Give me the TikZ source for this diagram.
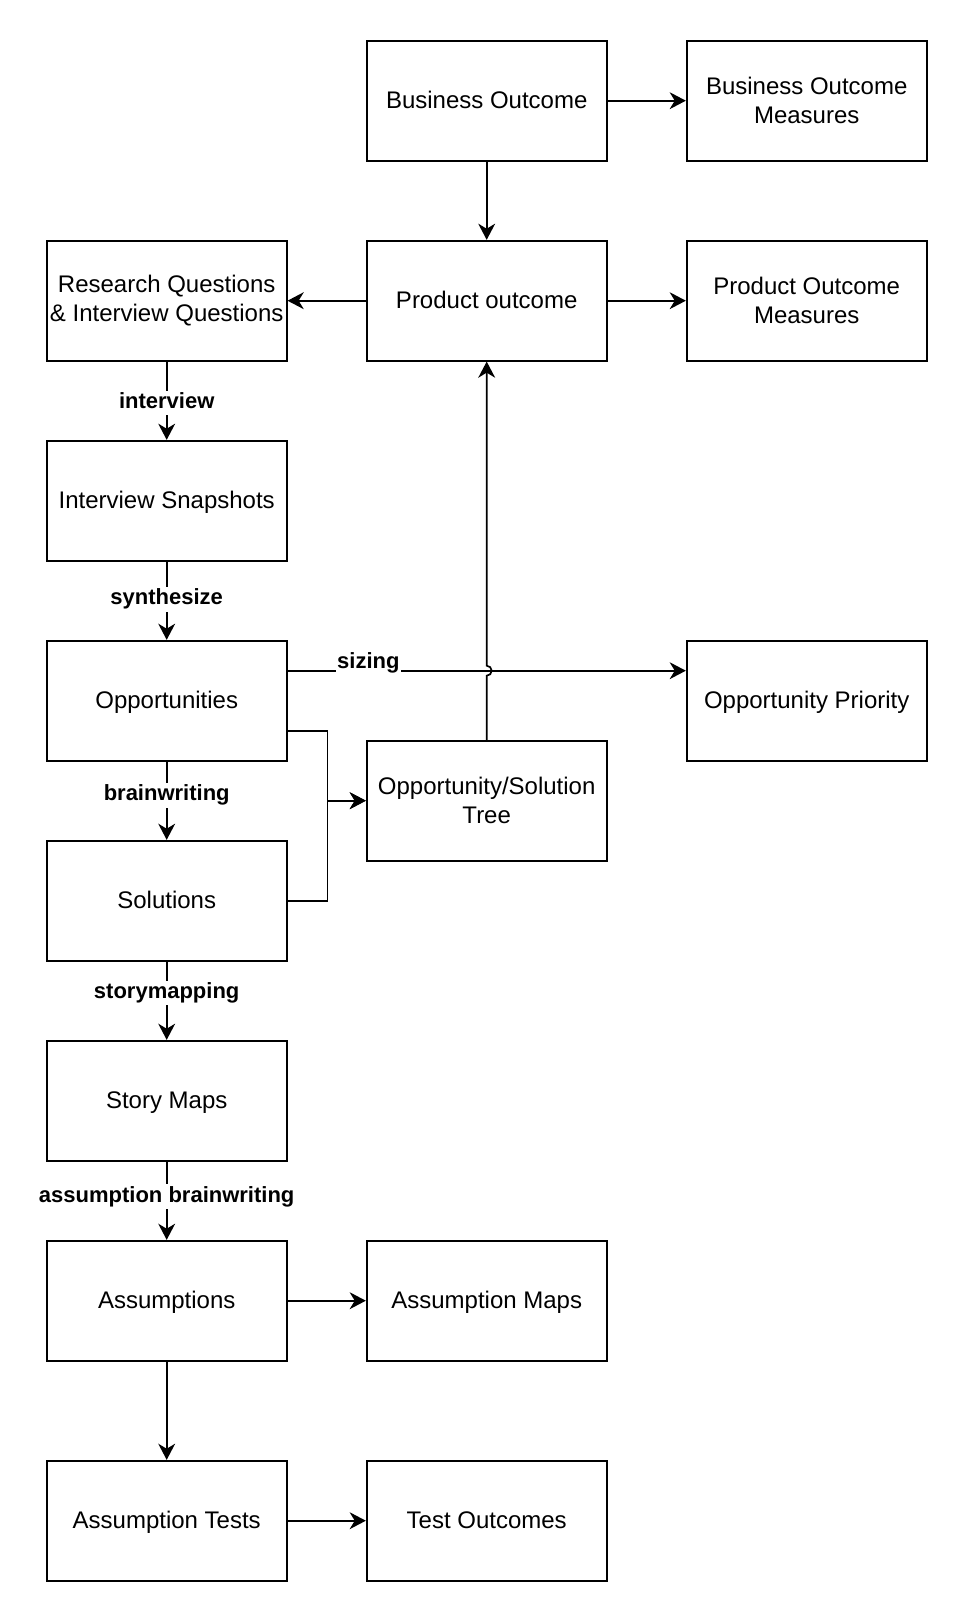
\documentclass[tikz,border=0pt]{standalone}
\usepackage{fontspec}
\setmainfont{Liberation Sans}
\usetikzlibrary{arrows.meta}

\tikzstyle{sbox}=[rectangle, draw, line width=1.2pt, minimum width=6cm, minimum height=3cm, inner sep=0pt, align=center, font=\fontsize{17.07}{20.9}\selectfont]
\tikzstyle{sline}=[sbox, text height=14.4pt, text depth=3.6pt]
\tikzstyle{arr}=[line width=1.2pt, -{Stealth[length=11.5pt, width=12pt, inset=3.6pt]}]
\tikzstyle{elabel}=[fill=white, inner sep=1pt, text height=11.7pt, text depth=3.9pt, font=\bfseries\fontsize{15.65}{19}\selectfont]

\begin{document}
\begin{tikzpicture}
\useasboundingbox (-4.1675,2.5175) rectangle (20.0325,-38.0325);

\node[sline] (bo) at (8,0) {Business Outcome};
\node[sbox] (bom) at (16,0) {Business Outcome\\Measures};
\node[sline] (po) at (8,-5) {Product outcome};
\node[sbox] (rq) at (0,-5) {Research Questions\\\& Interview Questions};
\node[sbox] (pom) at (16,-5) {Product Outcome\\Measures};
\node[sline] (is) at (0,-10) {Interview Snapshots};
\node[sline] (opp) at (0,-15) {Opportunities};
\node[sline] (prio) at (16,-15) {Opportunity Priority};
\node[sbox] (ost) at (8,-17.5) {Opportunity/Solution\\Tree};
\node[sline] (sol) at (0,-20) {Solutions};
\node[sline] (sm) at (0,-25) {Story Maps};
\node[sline] (as) at (0,-30) {Assumptions};
\node[sline] (am) at (8,-30) {Assumption Maps};
\node[sline] (tst) at (0,-35.5) {Assumption Tests};
\node[sline] (tout) at (8,-35.5) {Test Outcomes};

\coordinate (jmp) at (8,-14.25);

\draw[arr] (bo) -- (bom);
\draw[arr] (bo) -- (po);
\draw[arr] (po) -- (rq);
\draw[arr] (po) -- (pom);
\draw[arr] (rq) -- node[elabel, pos=0.53] {interview} (is);
\draw[arr] (is) -- node[elabel, pos=0.48] {synthesize} (opp);
\draw[arr] ([yshift=0.75cm]opp.east) -- node[elabel, pos=0.203, yshift=0.19cm] {sizing} ([yshift=0.75cm]prio.west);
\draw[arr] (ost.north) -- ([yshift=-0.125cm]jmp) arc[start angle=-90, end angle=90, radius=0.125cm] -- (po.south);
\draw[arr] ([yshift=-0.75cm]opp.east) -- ++(1,0) |- (ost.west);
\draw[arr] (sol.east) -- ++(1,0) |- (ost.west);
\draw[arr] (opp) -- node[elabel, pos=0.43] {brainwriting} (sol);
\draw[arr] (sol) -- node[elabel, pos=0.40] {storymapping} (sm);
\draw[arr] (sm) -- node[elabel, pos=0.45] {assumption brainwriting} (as);
\draw[arr] (as) -- (am);
\draw[arr] (as) -- (tst);
\draw[arr] (tst) -- (tout);
\end{tikzpicture}
\end{document}
